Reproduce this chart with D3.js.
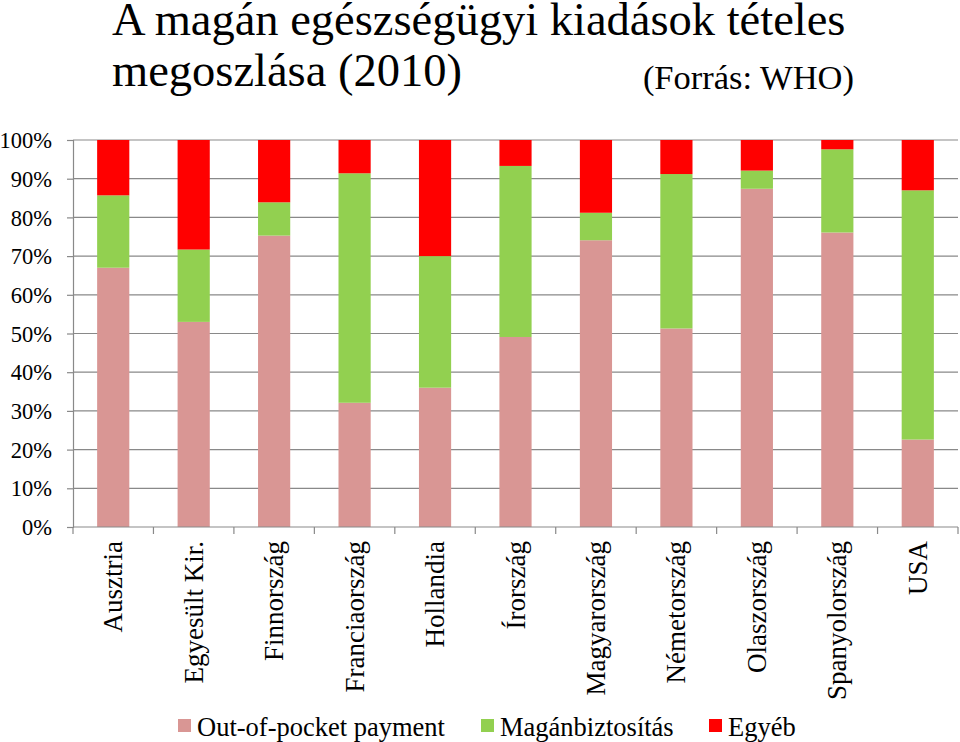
<!DOCTYPE html>
<html><head><meta charset="utf-8">
<script src="https://cdn.jsdelivr.net/npm/d3@7"></script>
<style>body{margin:0;background:#fff}svg{display:block;font-family:"Liberation Serif","Times New Roman",serif}svg text{font-family:"Liberation Serif","Times New Roman",serif !important;fill:#000}</style>
</head><body><svg id="c" width="960" height="742"></svg>
<script>
const categories = ["Ausztria","Egyesült Kir.","Finnország","Franciaország","Hollandia","Írország","Magyarország","Németország","Olaszország","Spanyolország","USA"];
const outOfPocket = [67.0,53.0,75.3,32.1,36.0,49.1,74.1,51.3,87.4,76.1,22.6];
const privateIns  = [18.7,18.7,8.6,59.3,34.0,44.2,7.1,39.9,4.7,21.5,64.4];
const other       = [14.3,28.3,16.1,8.6,30.0,6.7,18.8,8.8,7.9,2.4,13.0];
const seriesNames = ["Out-of-pocket payment","Magánbiztosítás","Egyéb"];
const seriesColors = ["#D99694","#92D050","#FF0000"];
const yTicks = [0,10,20,30,40,50,60,70,80,90,100];

const FONT = '"Liberation Serif","Times New Roman",serif';
const svg = d3.select("#c");
const x0 = 73, x1 = 958, yTop = 140, yBot = 527;
const x = d3.scaleBand().domain(categories).range([x0,x1]).paddingInner(0.6).paddingOuter(0.3);
const xb = d3.scaleBand().domain(categories).range([x0,x1]);
const y = d3.scaleLinear().domain([0,100]).range([yBot,yTop]);

// gridlines
svg.append("g").selectAll("line").data(yTicks.filter(d=>d>0)).join("line")
  .attr("x1",x0).attr("x2",x1).attr("y1",d=>y(d)).attr("y2",d=>y(d))
  .attr("stroke","#898989").attr("stroke-width",1.2);

// y axis
const ya = svg.append("g").attr("transform",`translate(${x0},0)`)
  .call(d3.axisLeft(y).tickValues(yTicks).tickFormat(d=>d+"%").tickSize(6).tickPadding(6))
  .attr("font-family",FONT);
ya.select(".domain").attr("stroke","#898989").attr("stroke-width",1.2);
ya.selectAll(".tick line").attr("stroke","#898989").attr("stroke-width",1.2);
ya.selectAll(".tick text").style("font-size","22.5px").style("font-family",FONT).attr("fill","#000").attr("x",-21).attr("dy","0.34em");

// stacked data
const rows = categories.map((c,i)=>({cat:c, oop:outOfPocket[i], pri:privateIns[i], oth:other[i]}));
const stack = d3.stack().keys(["oop","pri","oth"])(rows);
svg.append("g").selectAll("g").data(stack).join("g").attr("fill",(d,i)=>seriesColors[i])
  .selectAll("rect").data(d=>d).join("rect")
  .attr("x",d=>x(d.data.cat)).attr("width",x.bandwidth())
  .attr("y",d=>y(d[1])).attr("height",d=>y(d[0])-y(d[1]));

// x axis
const xa = svg.append("g").attr("transform",`translate(0,${yBot})`);
xa.append("line").attr("x1",x0).attr("x2",x1).attr("stroke","#898989").attr("stroke-width",1.2);
xa.selectAll("line.t").data(categories.concat(["__end"])).join("line").attr("class","t")
  .attr("x1",(d,i)=>x0+i*xb.step()).attr("x2",(d,i)=>x0+i*xb.step()).attr("y1",0).attr("y2",7)
  .attr("stroke","#898989").attr("stroke-width",1.2);
xa.selectAll("text").data(categories).join("text")
  .attr("transform",d=>`translate(${x(d)+x.bandwidth()/2+9},14) rotate(-90)`)
  .attr("text-anchor","end").style("font-size","27px").style("font-family",FONT).text(d=>d);

// title
svg.append("text").attr("x",112).attr("y",35).style("font-size","46.5px").style("font-family",FONT).text("A magán egészségügyi kiadások tételes");
svg.append("text").attr("x",112).attr("y",86).style("font-size","46.5px").style("font-family",FONT).text("megoszlása (2010)");
svg.append("text").attr("x",854).attr("y",89).attr("text-anchor","end").style("font-size","34.5px").style("font-family",FONT).text("(Forrás: WHO)");

// legend
const legX = [178,481,709];
const lg = svg.append("g").selectAll("g").data(seriesNames).join("g")
  .attr("transform",(d,i)=>`translate(${legX[i]},0)`);
lg.append("rect").attr("x",0).attr("y",719).attr("width",13).attr("height",13).attr("fill",(d,i)=>seriesColors[i]);
lg.append("text").attr("x",19).attr("y",736).style("font-size","26.5px").style("font-family",FONT).text(d=>d);
</script></body></html>
